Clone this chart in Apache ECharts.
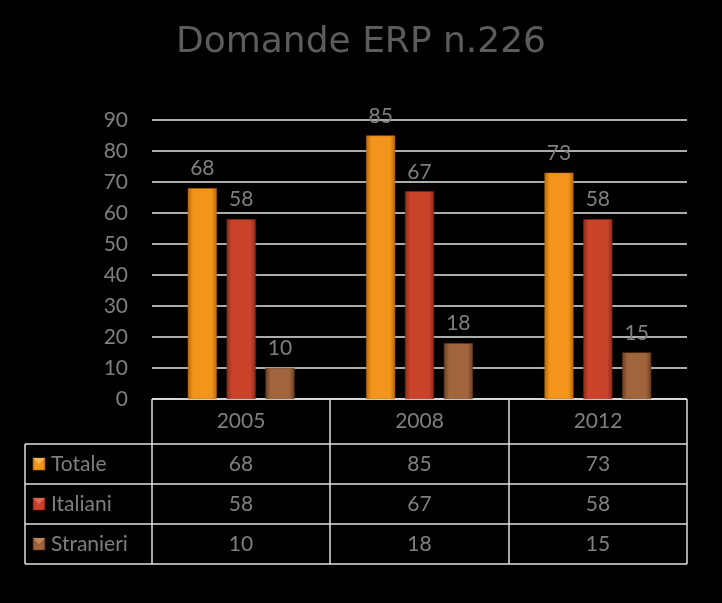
<!DOCTYPE html>
<html>
<head>
<meta charset="utf-8">
<script src="https://cdn.jsdelivr.net/npm/echarts@6/dist/echarts.min.js"></script>
<style>html,body{margin:0;padding:0;background:#000;}#c{width:722px;height:603px;}</style>
</head>
<body>
<div id="c"></div>
<script>
const titleText = 'Domande ERP n.226';
const categories = ['2005', '2008', '2012'];
const seriesNames = ['Totale', 'Italiani', 'Stranieri'];
const totale = [68, 85, 73];
const italiani = [58, 67, 58];
const stranieri = [10, 18, 15];
const yMin = 0, yMax = 90, yStep = 10;

const colors = [
  {main: '#F2951A', dark: '#B86A0C', light: '#FFD27A'},
  {main: '#C9432B', dark: '#8E2A18', light: '#F0836A'},
  {main: '#A0653D', dark: '#6A3F22', light: '#D6A07A'}
];
const values = [totale, italiani, stranieri];

const FONT = 'Lato';
const TXT = '#7f7f7f';
const L = 152, R = 687, T = 120, B = 399;
const colX = [152, 330, 509, 687];
const rowY = [399, 444, 484, 524, 564];
const legendLeft = 25;

function grad(c) {
  return new echarts.graphic.LinearGradient(0, 0, 1, 0, [
    {offset: 0, color: c.dark},
    {offset: 0.18, color: c.main},
    {offset: 0.82, color: c.main},
    {offset: 1, color: c.dark}
  ]);
}

const chart = echarts.init(document.getElementById('c'));

const series = seriesNames.map((name, i) => ({
  name: name,
  type: 'bar',
  data: values[i],
  barWidth: 29,
  barGap: '34%',
  itemStyle: {color: grad(colors[i]), borderColor: colors[i].dark, borderWidth: 0.5},
  label: {show: true, position: 'top', distance: 9, color: TXT, fontSize: 21, fontFamily: FONT}
}));

// table graphics
const g = [];
const lineStyle = {stroke: '#e0e0e0', lineWidth: 1.5};
function hline(x1, x2, y) { g.push({type: 'line', shape: {x1, y1: y, x2, y2: y}, style: lineStyle, silent: true}); }
function vline(x, y1, y2) { g.push({type: 'line', shape: {x1: x, y1, x2: x, y2}, style: lineStyle, silent: true}); }
hline(colX[0], colX[3], rowY[0]);
for (let r = 1; r < rowY.length; r++) hline(legendLeft, colX[3], rowY[r]);
vline(legendLeft, rowY[1], rowY[4]);
colX.forEach(x => vline(x, rowY[0], rowY[4]));

categories.forEach((c, j) => {
  g.push({type: 'text', x: (colX[j] + colX[j + 1]) / 2, y: (rowY[0] + rowY[1]) / 2,
    style: {text: c, fill: TXT, font: '21px ' + FONT, textAlign: 'center', textVerticalAlign: 'middle'}, silent: true});
});
seriesNames.forEach((name, i) => {
  const cy = (rowY[i + 1] + rowY[i + 2]) / 2;
  g.push({type: 'rect', shape: {x: 33, y: cy - 6, width: 12, height: 12},
    style: {fill: grad(colors[i]), stroke: colors[i].dark, lineWidth: 0.5}, silent: true});
  g.push({type: 'polygon', shape: {points: [[33, cy - 6], [45, cy - 6], [39, cy]]},
    style: {fill: colors[i].light, opacity: 0.6}, silent: true});
  g.push({type: 'text', x: 51, y: cy,
    style: {text: name, fill: TXT, font: '21px ' + FONT, textAlign: 'left', textVerticalAlign: 'middle'}, silent: true});
  values[i].forEach((v, j) => {
    g.push({type: 'text', x: (colX[j] + colX[j + 1]) / 2, y: cy,
      style: {text: String(v), fill: TXT, font: '21px ' + FONT, textAlign: 'center', textVerticalAlign: 'middle'}, silent: true});
  });
});

chart.setOption({
  backgroundColor: '#000',
  animation: false,
  title: {text: titleText, left: 'center', top: 20,
    textStyle: {color: '#5c5c5c', fontSize: 36, fontWeight: 'normal', fontFamily: 'DejaVu Sans'}},
  grid: {left: L, right: 722 - R, top: T, bottom: 603 - B, containLabel: false},
  xAxis: {type: 'category', data: categories, axisLine: {show: false}, axisTick: {show: false}, axisLabel: {show: false}},
  yAxis: {type: 'value', min: yMin, max: yMax, interval: yStep,
    axisLine: {show: false}, axisTick: {show: false},
    axisLabel: {color: TXT, fontSize: 21, fontFamily: FONT, margin: 24},
    splitLine: {lineStyle: {color: '#e6e6e6', width: 1.5}}},
  series: series,
  graphic: g
});
</script>
</body>
</html>
